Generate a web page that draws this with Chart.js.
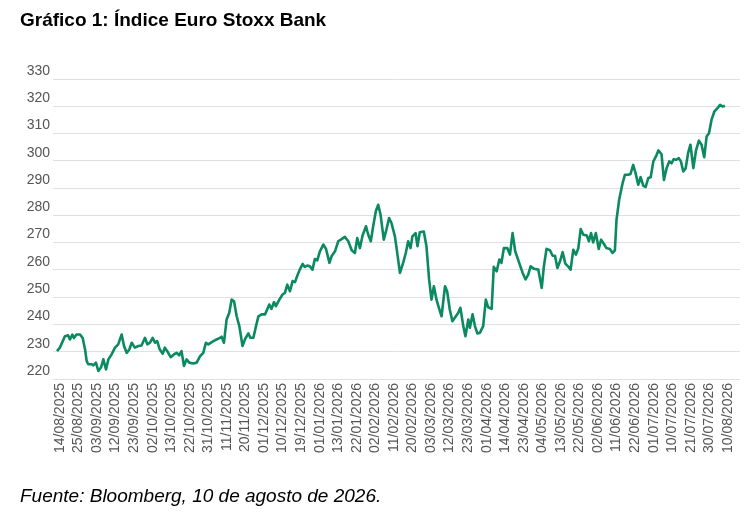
<!DOCTYPE html>
<html>
<head>
<meta charset="utf-8">
<script src="https://cdn.jsdelivr.net/npm/chart.js@4/dist/chart.umd.min.js"></script>
<style>
    html, body { margin: 0; padding: 0; background: #fff; }
    body { width: 756px; height: 518px; position: relative; overflow: hidden; font-family: 'Liberation Sans', Arial, sans-serif; }
    #title { position: absolute; left: 20px; top: 10px; font-size: 19px; line-height: 19px; font-weight: bold; color: #000; }
    #source { position: absolute; left: 20px; top: 486px; font-size: 19px; line-height: 19px; font-style: italic; color: #000; }
    #wrap { position: absolute; left: 0; top: 0; width: 756px; height: 518px; }
</style>
</head>
<body>
<div id="wrap"><canvas id="chart"></canvas></div>
<div id="title">Gráfico 1: Índice Euro Stoxx Bank</div>
<div id="source">Fuente: Bloomberg, 10 de agosto de 2026.</div>

<script>
// Tick labels on the date axis (one every 7 trading days)
const tickLabels = [
    '14/08/2025', '25/08/2025', '03/09/2025', '12/09/2025', '23/09/2025', '02/10/2025',
    '13/10/2025', '22/10/2025', '31/10/2025', '11/11/2025', '20/11/2025', '01/12/2025',
    '10/12/2025', '19/12/2025', '01/01/2026', '13/01/2026', '22/01/2026', '02/02/2026',
    '11/02/2026', '20/02/2026', '03/03/2026', '12/03/2026', '23/03/2026', '01/04/2026',
    '14/04/2026', '23/04/2026', '04/05/2026', '13/05/2026', '22/05/2026', '02/06/2026',
    '11/06/2026', '22/06/2026', '01/07/2026', '10/07/2026', '21/07/2026', '30/07/2026',
    '10/08/2026'
];
const tickStep = 7;

// Trading day (counted from 14/08/2025) of each point
const tradingDay = [
    0, 1.1, 3, 4.2, 4.9, 5.8, 6.4, 7.4, 8.7, 9.7, 10.6, 11.2, 11.8, 13.1, 13.7, 14.7, 15.6, 16.6,
    17.5, 18.5, 19.4, 20.6, 21.9, 23.1, 24.4, 25.3, 26.3, 27.3, 28.2, 29.4, 30.7, 31.9, 33.2, 34.1,
    35.1, 36.1, 37, 37.8, 38.8, 39.9, 40.7, 41.6, 42.9, 44.1, 45.1, 46.1, 47, 47.9, 48.9, 49.9,
    51.4, 52.7, 54, 55.2, 56.2, 57.1, 58.4, 60.2, 61.5, 62.1, 63, 64, 65, 65.9, 66.8, 67.8, 68.8,
    70, 70.9, 72.2, 73, 74.1, 75.1, 76, 77.2, 78.5, 79.3, 80.1, 80.9, 81.9, 82.6, 83.9, 85.1, 86,
    86.9, 87.9, 88.9, 89.8, 90.6, 91.6, 92.7, 93.5, 94.4, 95.4, 96.4, 97.3, 98.2, 99.2, 100.5,
    101.5, 102.8, 103.6, 104.9, 106.1, 107.4, 108.6, 109.9, 111.2, 112.4, 113.3, 114.3, 115.3,
    116.6, 117.4, 118.4, 119.3, 120.3, 121.2, 122.1, 123.3, 124.3, 125.3, 126.2, 127.5, 128.3,
    129.4, 130.6, 131.6, 132.5, 133.4, 134.1, 135.3, 136, 136.9, 138.4, 139.4, 140.4, 141.3,
    142.2, 143.2, 144.1, 145.1, 146.4, 147.2, 148.2, 149.2, 150.5, 151.4, 152.2, 153.3, 154.1,
    155.2, 155.8, 156.8, 157.7, 158.6,
    159.6, 160.8, 161.8, 162.7, 164, 164.8, 165.9, 166.9, 167.7, 168.6, 169.9, 170.9, 171.9,
    172.9, 174.4, 175.7, 176.8, 177.8, 178.7, 180, 181.6, 182.9, 183.7, 184.7, 186, 187, 187.9,
    188.8, 189.8, 190.8, 191.8, 193, 193.8, 194.8, 195.8, 196.7, 197.6, 198.6, 199.9, 200.7,
    201.5, 202.3, 203.3, 204.4, 205.3, 206.3, 207.3, 208.6, 209.6, 210.5, 211.1, 212.1, 213.4,
    214.3, 215.5, 216.4, 217.4, 218.3, 219.3, 220.2, 221.2, 222.1, 223.1, 224, 225, 226, 226.9,
    228.1, 229, 230, 231, 231.9, 232.7, 233.7, 234.6, 235.4, 236.3, 237.2, 238.1, 239, 240.1,
    241.1, 242.2, 243.2, 244.2, 245.1, 246, 247, 248, 249.2, 250.2, 251.2, 252
];

// Euro Stoxx Bank index level at each of those points
const indexLevel = [
    230.2, 231.5, 235.7, 236, 234.5, 236.3, 235, 236.3, 236.3, 235, 230.8, 226.6, 225.4, 225.4,
    225, 226, 223, 224.2, 227.2, 223.5, 227.2, 229, 231.5, 232.7, 236.3, 232.1, 229.6, 230.8,
    233.3, 231.5, 232.1, 232.3, 235.1, 232.7, 233.3, 235.1, 233.3, 233.9, 230.8, 229.3, 231.5,
    230.2, 228, 229, 229.6, 228.7, 230.2, 224.8, 227.2, 226, 225.7, 226, 228.4, 229.6, 233.3,
    232.7, 233.5, 234.5, 235.1, 235.5, 233.3, 241.8, 244.3, 249.1, 248.5, 243, 239.4,
    232.1, 234.5, 236.7, 235.1, 235.1, 239.4, 243, 243.7, 243.7, 245.5, 247.3, 245.7, 248.2,
    246.7, 249.1, 251, 251.6, 254.6, 252.2, 255.9, 255.5, 257.7, 260.1, 262.2, 261.1, 261.6,
    261.3, 260.1, 264, 263.5, 266.8, 269.3, 267.7, 262.6, 265, 266.8, 270.5, 271.3, 272.1,
    270.5, 267.2, 266.2, 271.7, 268, 272.6, 276, 273, 270.5, 276, 281.5, 283.9, 280.2, 271.1,
    274.8, 279, 277.2, 272.3, 266.8, 258.9, 262.6, 266.2, 270.5, 268, 272.3, 273.5, 268.7,
    273.8, 274.1, 268.7, 256.5, 249.1, 254, 249.1, 246.1, 243, 254, 252.2, 245.5, 241.2, 243,
    244.3, 246.1, 239.4, 235.7, 241.8, 238.8, 243.7, 239.4, 236.7,
    237, 239.4, 249.1, 246.3, 245.7, 261.1, 259.5, 263.8, 262.6, 268, 268, 265.6, 273.5, 266.8,
    262.6, 258.9, 256.5, 258.3, 261.3, 260.4, 260.1, 253.4, 261.3, 267.7, 267.2, 265.2, 265.2,
    260.7, 263.2, 266.5, 262.3, 261.1, 260.1, 267.4, 265.6, 268, 275, 272.9, 272.6, 270.5,
    273.5, 270.1, 273.5, 267.7, 271.1, 269.6, 268, 267.7, 266.2, 267.2, 278.3, 285.7, 291.8,
    294.9, 294.9, 295.2, 298.5, 295.5, 291.2, 294, 290.9, 290.4, 293.7, 294, 299.8, 301.6, 303.8,
    302.4, 293, 297.3, 299.8, 299.1, 300.6, 300.4, 301, 299.8, 296.1, 297.3, 302.8, 305.9, 297.3,
    303.8, 307.4, 305.9, 301.3, 308.9, 310.1, 315.2, 318, 319.3, 320.5, 319.9, 320.2
];

const yMin = 220;
const yMax = 330;
const yStep = 10;

document.addEventListener('DOMContentLoaded', () => {
    createChart();
});

function createChart() {
    const ctx = document.getElementById('chart');
    const points = indexLevel.map((v, i) => ({ x: tradingDay[i], y: v }));
    const lastDay = (tickLabels.length - 1) * tickStep;

    new Chart(ctx, {
        type: 'line',
        data: {
            datasets: [{
                label: 'Euro Stoxx Bank',
                data: points,
                borderColor: '#0a8a5e',
                borderWidth: 2.6,
                borderJoinStyle: 'round',
                pointRadius: 0,
                tension: 0,
                fill: false
            }]
        },
        options: {
            responsive: true,
            maintainAspectRatio: false,
            animation: false,
            layout: {
                padding: { top: 79, right: 16, bottom: 0, left: 0 }
            },
            scales: {
                x: {
                    type: 'linear',
                    min: -1.5,
                    max: lastDay + 5.7,
                    afterBuildTicks: (scale) => {
                        scale.ticks = tickLabels.map((_, i) => ({ value: i * tickStep }));
                    },
                    afterFit: (scale) => {
                        scale.height = 139;
                    },
                    grid: { display: false, drawTicks: false },
                    border: { display: false },
                    ticks: {
                        autoSkip: false,
                        minRotation: 90,
                        maxRotation: 90,
                        padding: 4,
                        labelOffset: 3,
                        color: '#555555',
                        font: { family: "'Liberation Sans', Arial, sans-serif", size: 14 },
                        callback: (value) => tickLabels[Math.round(value / tickStep)]
                    }
                },
                y: {
                    min: yMin,
                    max: yMax,
                    afterFit: (scale) => {
                        scale.width = 53;
                    },
                    grid: {
                        color: '#e0e0e0',
                        lineWidth: 1,
                        drawTicks: false
                    },
                    border: { display: false },
                    ticks: {
                        stepSize: yStep,
                        padding: 3,
                        labelOffset: -8,
                        color: '#555555',
                        font: { family: "'Liberation Sans', Arial, sans-serif", size: 14 }
                    }
                }
            },
            plugins: {
                legend: { display: false },
                tooltip: { enabled: false }
            }
        }
    });
}
</script>
</body>
</html>
